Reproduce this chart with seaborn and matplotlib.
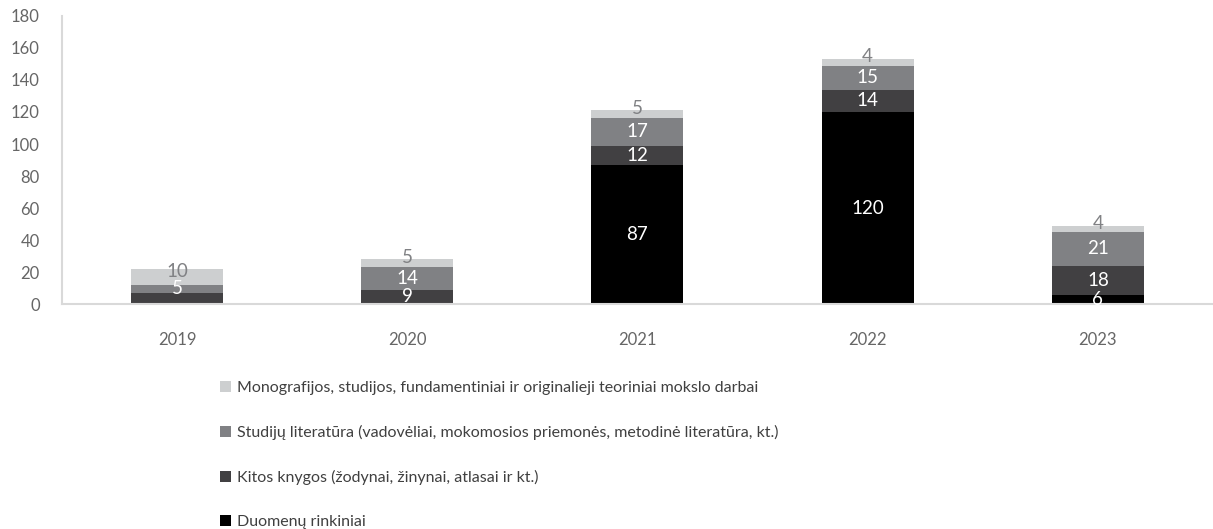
import numpy as np
import pandas as pd
import matplotlib.pyplot as plt
import seaborn as sns

# data
years = ['2019', '2020', '2021', '2022', '2023']
duomenu = [0, 0, 87, 120, 6]
kitos = [7, 9, 12, 14, 18]
studiju = [5, 14, 17, 15, 21]
monografijos = [10, 5, 5, 4, 4]
# 2019 "Kitos knygos" value has no label in the original
show_kitos = [False, True, True, True, True]

series_names = ['Duomenų rinkiniai',
                'Kitos knygos (žodynai, žinynai, atlasai ir kt.)',
                'Studijų literatūra (vadovėliai, mokomosios priemonės, metodinė literatūra, kt.)',
                'Monografijos, studijos, fundamentiniai ir originalieji teoriniai mokslo darbai']
colors = ['#000000', '#414042', '#808184', '#cdcfd0']
text_colors = ['white', 'white', 'white', '#808184']

sns.set_style('white')
plt.rcParams['font.family'] = ['Lato', 'DejaVu Sans']

layers = [duomenu, kitos, studiju, monografijos]
cum = np.cumsum(np.array(layers), axis=0)

fig = plt.figure(figsize=(12.13, 5.29), dpi=100)
ax = fig.add_axes([0.051, 0.425, 0.949, 0.545])

# draw cumulative totals from the top layer down so they stack
handles = []
for i in range(3, -1, -1):
    df = pd.DataFrame({'year': years, 'value': cum[i]})
    sns.barplot(data=df, x='year', y='value', color=colors[i], width=0.4,
                saturation=1, ax=ax, linewidth=0, label=series_names[i])
    handles.append(ax.containers[-1])

# segment labels
for i, layer in enumerate(layers):
    for j, v in enumerate(layer):
        if v == 0:
            continue
        if i == 1 and not show_kitos[j]:
            continue
        y = cum[i][j] - v / 2
        if i == 3:
            y = cum[i][j] - v / 2 + 3.5
        ax.text(j, y, str(v), ha='center', va='center', fontsize=13.5,
                color=text_colors[i])

ax.set_ylim(0, 180)
ax.set_yticks(range(0, 181, 20))
ax.set_xlim(-0.5, 4.5)
ax.set_xlabel('')
ax.set_ylabel('')
ax.tick_params(axis='both', length=0, labelsize=12, colors='#666666')
ax.tick_params(axis='x', pad=20)
ax.tick_params(axis='y', pad=16)
for s in ['top', 'right']:
    ax.spines[s].set_visible(False)
for s in ['left', 'bottom']:
    ax.spines[s].set_color('#d9d9d9')
    ax.spines[s].set_linewidth(1.5)

ax.legend().remove()
leg = fig.legend(handles=handles, labels=series_names[::-1], loc='upper left',
                 bbox_to_anchor=(0.176, 0.292), frameon=False, fontsize=11.5,
                 handlelength=0.7, handleheight=0.7, handletextpad=0.4,
                 labelspacing=1.88, borderaxespad=0)
for t in leg.get_texts():
    t.set_color('#404040')

plt.savefig('out.png', dpi=100)
